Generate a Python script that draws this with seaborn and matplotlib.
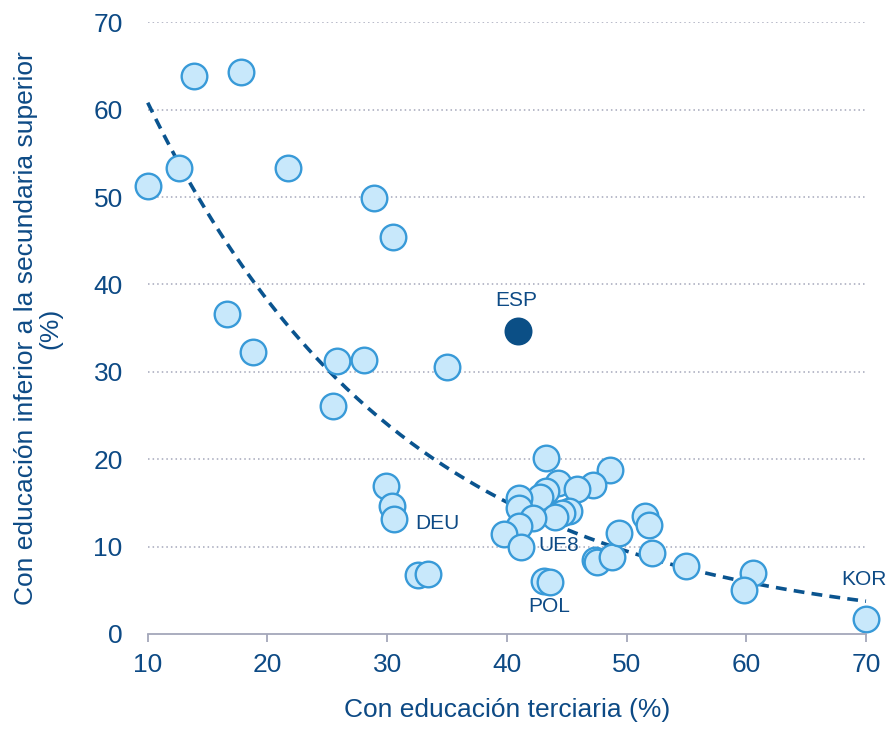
import numpy as np
import pandas as pd
import seaborn as sns
import matplotlib.pyplot as plt

# % adults with tertiary education vs % below upper secondary
terciaria = [10.0, 12.6, 13.9, 17.8, 21.7, 28.9, 30.5, 16.6, 18.8, 25.8, 28.1, 35.0, 25.5,
             29.9, 30.4, 30.6, 32.6, 33.4,
             43.3, 48.6, 44.3, 47.2, 45.9, 43.3, 42.8, 41.0, 41.0, 45.2, 44.6, 44.0, 42.2,
             41.0, 39.8, 41.2, 43.1, 43.6,
             47.4, 47.5, 48.8, 49.4, 51.5, 51.9, 52.1, 55.0, 60.6, 59.8, 70.0]
inferior = [51.3, 53.3, 63.9, 64.3, 53.3, 49.9, 45.4, 36.6, 32.3, 31.2, 31.3, 30.6, 26.1,
            16.9, 14.6, 13.1, 6.7, 6.8,
            20.1, 18.8, 17.3, 17.0, 16.6, 16.3, 15.7, 15.6, 14.4, 14.1, 13.8, 13.4, 13.3,
            12.4, 11.4, 10.0, 6.1, 5.9,
            8.4, 8.2, 8.8, 11.6, 13.5, 12.5, 9.3, 7.8, 7.0, 5.0, 1.7]
esp = (40.9, 34.7)

etiquetas = ['ESP', 'DEU', 'UE8', 'POL', 'KOR']
etiqueta_pos = [(40.8, 38.2), (34.2, 12.6), (44.3, 10.1), (43.5, 3.1), (69.8, 6.2)]

df = pd.DataFrame({'terciaria': terciaria, 'inferior': inferior})

navy = '#0D4A85'
sns.set_style('white')
plt.rcParams['font.family'] = ['Liberation Sans', 'DejaVu Sans']

fig = plt.figure(figsize=(8.9, 7.44), dpi=100)
ax = fig.add_axes([0.166, 0.148, 0.807, 0.822])

for y in range(10, 80, 10):
    ax.axhline(y, color='#A4A7BA', lw=1.1, ls=(0, (1, 2)), zorder=0)

# exponential trend fitted on all countries
allx = np.array(terciaria + [esp[0]])
ally = np.array(inferior + [esp[1]])
b, loga = np.polyfit(allx, np.log(ally), 1)
xt = np.linspace(10, 70, 200)
ax.plot(xt, np.exp(loga) * np.exp(b * xt), color='#0A548F', lw=2.6,
        ls=(0, (3, 2)), zorder=1, clip_on=False)

sns.scatterplot(data=df, x='terciaria', y='inferior', s=340, color='#C8E8FB',
                edgecolor='#389AD8', linewidth=1.7, ax=ax, zorder=2, clip_on=False)
ax.scatter([esp[0]], [esp[1]], s=340, color='#0B4F86', edgecolor='#0B4F86',
           linewidth=1.7, zorder=3, clip_on=False)

for lab, (lx, ly) in zip(etiquetas, etiqueta_pos):
    ax.text(lx, ly, lab, color=navy, fontsize=15, ha='center', va='center', zorder=4)

ax.set_xlim(10, 70)
ax.set_ylim(0, 70)
ax.set_xticks(range(10, 80, 10))
ax.set_yticks(range(0, 80, 10))
for s in ['top', 'right', 'left']:
    ax.spines[s].set_visible(False)
ax.spines['bottom'].set_color('#A4A7BA')
ax.spines['bottom'].set_linewidth(1.3)
ax.tick_params(axis='x', length=6, width=1.3, color='#A4A7BA', pad=8,
               labelsize=19, labelcolor=navy, bottom=True)
ax.tick_params(axis='y', length=0, pad=18, labelsize=19, labelcolor=navy)

ax.set_xlabel('Con educación terciaria (%)', fontsize=19, color=navy, labelpad=15)
ax.set_ylabel('Con educación inferior a la secundaria superior\n(%)', fontsize=19,
              color=navy, labelpad=22, linespacing=1.05)

fig.savefig('out.png', dpi=100)
